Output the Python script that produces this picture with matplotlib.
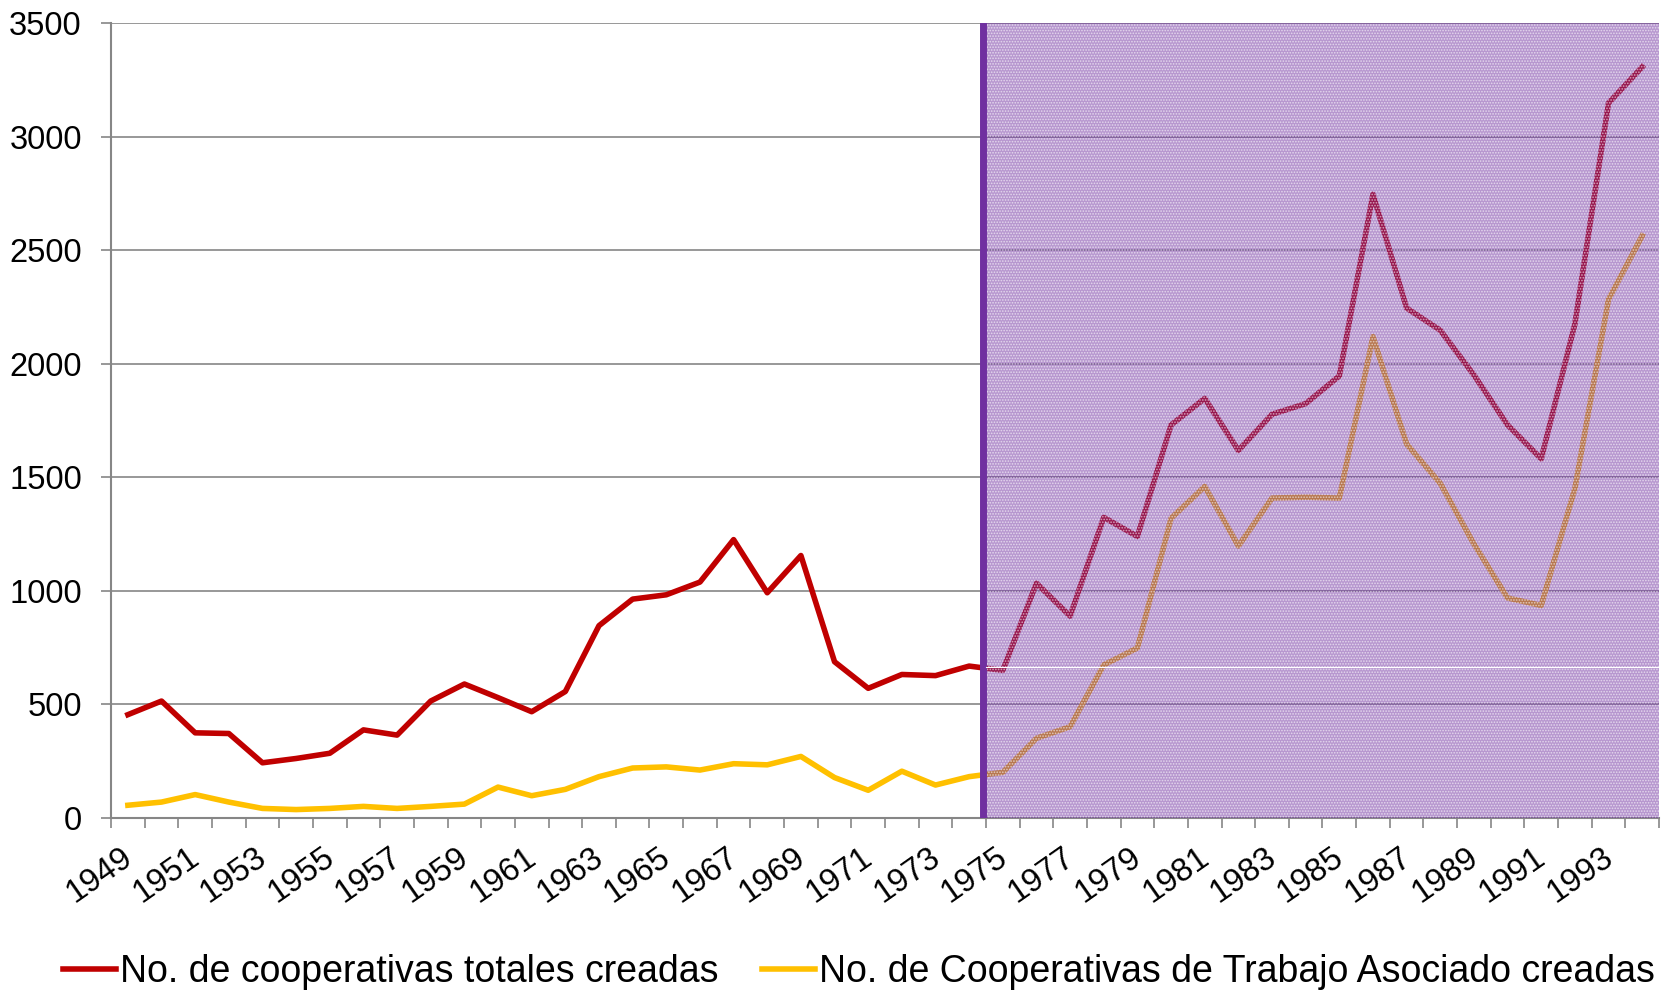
import numpy as np
import matplotlib
matplotlib.use("Agg")
import matplotlib.pyplot as plt
import matplotlib.transforms as mtransforms

plt.rcParams['font.family'] = ['Liberation Sans', 'DejaVu Sans']

# data
years = list(range(1949, 1995))
total_coops = [455, 515, 375, 372, 243, 262, 285, 388, 365, 515,
               590, 530, 468, 557, 847, 964, 983, 1039, 1226, 992,
               1156, 688, 571, 632, 627, 669, 650, 1034, 889, 1324,
               1240, 1731, 1848, 1619, 1778, 1825, 1947, 2747, 2246, 2148,
               1951, 1731, 1582, 2176, 3149, 3308]
trabajo_coops = [56, 70, 103, 70, 42, 37, 42, 51, 42, 51,
                 61, 136, 98, 126, 182, 220, 225, 211, 239, 234,
                 271, 178, 122, 206, 145, 182, 201, 351, 402, 674,
                 749, 1320, 1460, 1198, 1409, 1413, 1409, 2120, 1647, 1474,
                 1207, 969, 936, 1451, 2284, 2564]
labels = ["No. de cooperativas totales creadas",
          "No. de Cooperativas de Trabajo Asociado creadas"]
shade_start_year = 1975

red = "#C00000"
yellow = "#FFC000"
purple = "#7030A0"
grey = "#868686"

fig = plt.figure(figsize=(16.65, 9.94), dpi=100)
ax = fig.add_axes([0.0667, 0.1771, 0.9297, 0.7994])

n = len(years)
x = np.arange(n) + 0.5
ax.plot(x, total_coops, color=red, lw=4.0, zorder=2, label=labels[0])
ax.plot(x, trabajo_coops, color=yellow, lw=4.0, zorder=2, label=labels[1])

# shaded period
s = years.index(shade_start_year)
ax.axvspan(s, n, color=purple, alpha=0.5, lw=0, zorder=3)
plt.rcParams['hatch.linewidth'] = 0.8
ax.axvspan(s, n, facecolor='none', edgecolor=(1, 1, 1, 0.6), hatch='......', lw=0, zorder=3)
ax.axvline(s - 0.1, color=purple, lw=5, zorder=4)
ax.plot([s, n], [663, 663], color='white', lw=0.8, zorder=4)

ax.set_xlim(0, n)
ax.set_ylim(0, 3500)
ax.set_yticks(np.arange(0, 3501, 500))
ax.grid(axis='y', color=grey, lw=1.2)
ax.set_axisbelow(True)

ax.set_xticks(np.arange(0, n + 1), minor=True)
ax.set_xticks(x[::2])
ax.set_xticklabels([str(y) for y in years[::2]], rotation=35, ha='right', va='top')
ax.tick_params(axis='x', which='major', length=0, pad=17, labelsize=23.5)
ax.tick_params(axis='x', which='minor', length=7, width=1.2, color=grey, direction='out')
ax.tick_params(axis='y', length=7, width=1.2, color=grey, pad=14, labelsize=23.5)

# nudge the rotated year labels a little to the right
shift = mtransforms.ScaledTranslation(0.1, 0, fig.dpi_scale_trans)
for lab in ax.get_xticklabels():
    lab.set_transform(lab.get_transform() + shift)

for side in ['top', 'right']:
    ax.spines[side].set_visible(False)
for side in ['left', 'bottom']:
    ax.spines[side].set_color(grey)
    ax.spines[side].set_linewidth(1.5)

fig.legend(loc='center', bbox_to_anchor=(0.516, 0.022), ncol=2, frameon=False,
           fontsize=27, handlelength=1.4, handletextpad=0.13, columnspacing=1.15,
           borderpad=0)

fig.savefig("out.png", dpi=100)
